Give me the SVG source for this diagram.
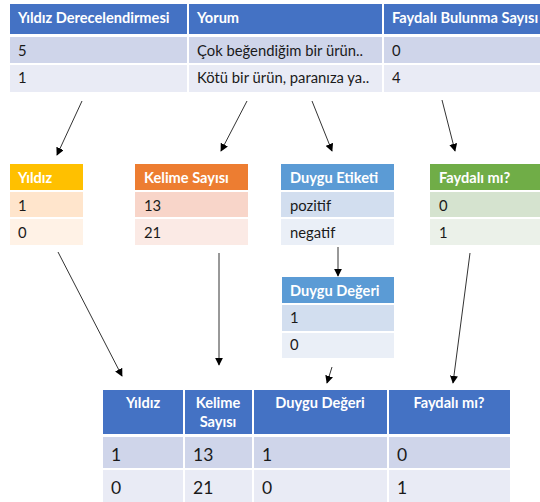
<svg xmlns="http://www.w3.org/2000/svg" width="540" height="502" viewBox="0 0 540 502">
<defs>
<marker id="ah" viewBox="0 0 10 10" refX="9" refY="5" markerWidth="8" markerHeight="8" markerUnits="userSpaceOnUse" orient="auto">
<path d="M0,0 L10,5 L0,10 z" fill="#000"/>
</marker>
</defs>
<style>
text{font-family:Lato,"Open Sans","Noto Sans",sans-serif;}
.h{font-weight:bold;fill:#fff;font-size:14.6px;}
.c{fill:#1a1a1a;font-size:14.8px;}
.bh{font-weight:bold;fill:#fff;font-size:14.6px;text-anchor:middle;}
.bc{fill:#1a1a1a;font-size:17.5px;}
.blue{fill:#4472C4;}
.b1{fill:#CFD5EA;}
.b2{fill:#E9EBF5;}
.conn line{stroke:#333;stroke-width:1;marker-end:url(#ah);}
</style>
<rect width="540" height="502" fill="#fff"/>

<g id="source-table">
<rect class="blue" x="10" y="4" width="177" height="30"/>
<rect class="blue" x="189" y="4" width="193" height="30"/>
<rect class="blue" x="384" y="4" width="156" height="30"/>
<rect class="b1" x="10" y="37" width="177" height="26"/>
<rect class="b1" x="189" y="37" width="193" height="26"/>
<rect class="b1" x="384" y="37" width="156" height="26"/>
<rect class="b2" x="10" y="65" width="177" height="27"/>
<rect class="b2" x="189" y="65" width="193" height="27"/>
<rect class="b2" x="384" y="65" width="156" height="27"/>
<text class="h" x="18" y="23">Yıldız Derecelendirmesi</text>
<text class="h" x="197" y="23">Yorum</text>
<text class="h" x="392" y="23">Faydalı Bulunma Sayısı</text>
<text class="c" x="18" y="56">5</text>
<text class="c" x="197" y="56">Çok beğendiğim bir ürün..</text>
<text class="c" x="392" y="56">0</text>
<text class="c" x="18" y="83">1</text>
<text class="c" x="197" y="83">Kötü bir ürün, paranıza ya..</text>
<text class="c" x="392" y="83">4</text>
</g>

<g id="yildiz">
<rect x="10" y="164" width="73" height="26" fill="#FFC000"/>
<rect x="10" y="192" width="73" height="25" fill="#FFE5CC"/>
<rect x="10" y="219" width="73" height="26" fill="#FFF2E6"/>
<text class="h" x="18" y="183">Yıldız</text>
<text class="c" x="18" y="211">1</text>
<text class="c" x="18" y="238">0</text>
</g>

<g id="kelime-sayisi">
<rect x="135" y="164" width="113" height="26" fill="#ED7D31"/>
<rect x="135" y="192" width="113" height="25" fill="#F8D5C9"/>
<rect x="135" y="219" width="113" height="26" fill="#FBEAE5"/>
<text class="h" x="144" y="183">Kelime Sayısı</text>
<text class="c" x="144" y="211">13</text>
<text class="c" x="144" y="238">21</text>
</g>

<g id="duygu-etiketi">
<rect x="281" y="164" width="113" height="26" fill="#5B9BD5"/>
<rect x="281" y="192" width="113" height="25" fill="#D2DEEF"/>
<rect x="281" y="219" width="113" height="26" fill="#EAEFF7"/>
<text class="h" x="290" y="183">Duygu Etiketi</text>
<text class="c" x="290" y="211">pozitif</text>
<text class="c" x="290" y="238">negatif</text>
</g>

<g id="faydali-mi">
<rect x="430" y="164" width="110" height="26" fill="#70AD47"/>
<rect x="430" y="192" width="110" height="25" fill="#D5E3CF"/>
<rect x="430" y="219" width="110" height="26" fill="#EBF1E9"/>
<text class="h" x="439" y="183">Faydalı mı?</text>
<text class="c" x="439" y="211">0</text>
<text class="c" x="439" y="238">1</text>
</g>

<g id="duygu-degeri">
<rect x="282" y="277" width="112" height="26" fill="#5B9BD5"/>
<rect x="282" y="305" width="112" height="26" fill="#D2DEEF"/>
<rect x="282" y="333" width="112" height="25" fill="#EAEFF7"/>
<text class="h" x="290" y="296">Duygu Değeri</text>
<text class="c" x="290" y="323">1</text>
<text class="c" x="290" y="350">0</text>
</g>

<g id="result-table">
<rect class="blue" x="103" y="390" width="80" height="44"/>
<rect class="blue" x="185" y="390" width="67" height="44"/>
<rect class="blue" x="254" y="390" width="133" height="44"/>
<rect class="blue" x="389" y="390" width="121" height="44"/>
<rect class="b1" x="103" y="437" width="80" height="31"/>
<rect class="b1" x="185" y="437" width="67" height="31"/>
<rect class="b1" x="254" y="437" width="133" height="31"/>
<rect class="b1" x="389" y="437" width="121" height="31"/>
<rect class="b2" x="103" y="470" width="80" height="32"/>
<rect class="b2" x="185" y="470" width="67" height="32"/>
<rect class="b2" x="254" y="470" width="133" height="32"/>
<rect class="b2" x="389" y="470" width="121" height="32"/>
<text class="bh" x="143" y="408">Yıldız</text>
<text class="bh" x="218" y="408">Kelime</text>
<text class="bh" x="218" y="427">Sayısı</text>
<text class="bh" x="320" y="408">Duygu Değeri</text>
<text class="bh" x="449" y="408">Faydalı mı?</text>
<text class="bc" x="111" y="461">1</text>
<text class="bc" x="193" y="461">13</text>
<text class="bc" x="262" y="461">1</text>
<text class="bc" x="397" y="461">0</text>
<text class="bc" x="111" y="494">0</text>
<text class="bc" x="193" y="494">21</text>
<text class="bc" x="262" y="494">0</text>
<text class="bc" x="397" y="494">1</text>
</g>

<g id="connectors" class="conn">
<line x1="82" y1="101" x2="57" y2="155"/>
<line x1="247" y1="101" x2="221" y2="151"/>
<line x1="312" y1="101" x2="332" y2="151"/>
<line x1="442" y1="100" x2="455" y2="151"/>
<line x1="338" y1="247" x2="338" y2="276"/>
<line x1="58" y1="252" x2="122" y2="376"/>
<line x1="219" y1="253" x2="219" y2="365"/>
<line x1="332" y1="367" x2="327" y2="383"/>
<line x1="470" y1="253" x2="453" y2="383"/>
</g>
</svg>
